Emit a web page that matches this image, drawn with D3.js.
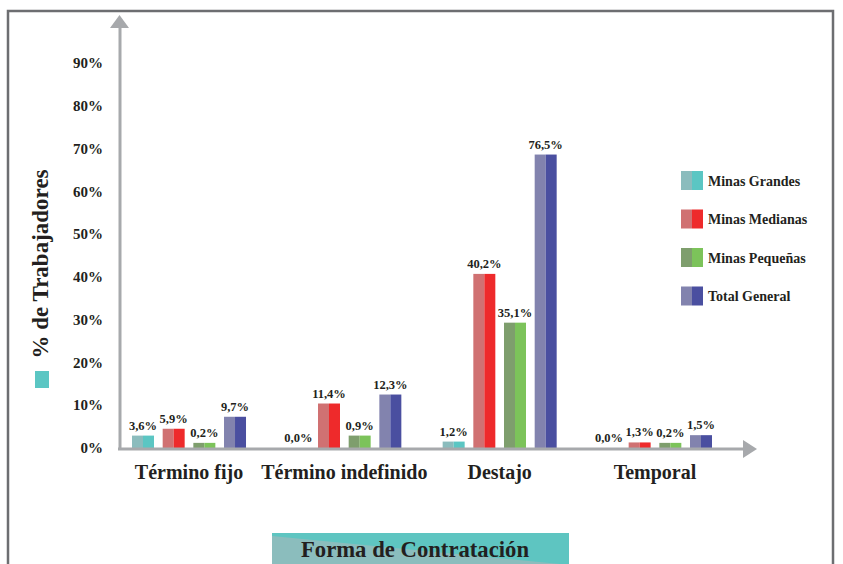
<!DOCTYPE html>
<html>
<head>
<meta charset="utf-8">
<script src="https://cdn.jsdelivr.net/npm/d3@7"></script>
<style>
  body { margin: 0; background: #fff; }
  text { font-family: "Times New Roman", Times, "Liberation Serif", Tinos, serif; font-weight: bold; fill: #231f20; }
</style>
</head>
<body>
<div id="chart"></div>
<script>
var categories = ["Término fijo", "Término indefinido", "Destajo", "Temporal"];
var series = ["Minas Grandes", "Minas Medianas", "Minas Pequeñas", "Total General"];

// bar heights as drawn in the picture (%)
var barGrandes = [2.9, 0, 1.5, 0];
var barMedianas = [4.5, 10.4, 40.7, 1.3];
var barPequenas = [1.2, 2.9, 29.3, 1.2];
var barTotal = [7.3, 12.5, 68.6, 3.0];

// value labels printed over the bars
var labelGrandes = ["3,6%", "0,0%", "1,2%", "0,0%"];
var labelMedianas = ["5,9%", "11,4%", "40,2%", "1,3%"];
var labelPequenas = ["0,2%", "0,9%", "35,1%", "0,2%"];
var labelTotal = ["9,7%", "12,3%", "76,5%", "1,5%"];

var yTicks = [0, 10, 20, 30, 40, 50, 60, 70, 80, 90];

var lightColors = ["#8bbcbd", "#d07172", "#7e9e6d", "#8283ae"];
var darkColors = ["#5bc6c3", "#ee2a2b", "#7cc35a", "#4a4fa0"];

var width = 843;
var height = 564;
var axisColor = "#a7a9ac";

var svg = d3.select("#chart")
  .append("svg")
  .attr("width", width)
  .attr("height", height);

// outer frame
svg.append("rect")
  .attr("x", 8)
  .attr("y", 11)
  .attr("width", 825)
  .attr("height", 600)
  .attr("fill", "none")
  .attr("stroke", "#6d6e71")
  .attr("stroke-width", 2.5);

var baseY = 448;

var y = d3.scaleLinear()
  .domain([0, 90])
  .range([baseY, 63]);

var x0 = d3.scaleBand()
  .domain(categories)
  .range([132, 712])
  .paddingInner(0.266)
  .paddingOuter(0);

var x1 = d3.scaleBand()
  .domain(series)
  .range([0, x0.bandwidth()])
  .paddingInner(0.283)
  .paddingOuter(0);

var bars = [barGrandes, barMedianas, barPequenas, barTotal];
var labels = [labelGrandes, labelMedianas, labelPequenas, labelTotal];

var data = [];
categories.forEach(function (c, i) {
  series.forEach(function (s, j) {
    data.push({ cat: c, ser: s, si: j, v: bars[j][i], label: labels[j][i] });
  });
});

// y tick labels (no tick lines)
svg.append("g")
  .selectAll("text")
  .data(yTicks)
  .enter()
  .append("text")
  .attr("x", 103)
  .attr("y", function (d) { return y(d); })
  .attr("dy", "0.35em")
  .attr("text-anchor", "end")
  .attr("font-size", 15)
  .text(function (d) { return d + "%"; });

// bars, each in two tones
var barG = svg.append("g");
var bw = x1.bandwidth();

barG.selectAll(".bar-left")
  .data(data)
  .enter()
  .append("rect")
  .attr("class", "bar-left")
  .attr("x", function (d) { return x0(d.cat) + x1(d.ser); })
  .attr("y", function (d) { return y(d.v); })
  .attr("width", bw / 2)
  .attr("height", function (d) { return baseY - y(d.v); })
  .attr("fill", function (d) { return lightColors[d.si]; });

barG.selectAll(".bar-right")
  .data(data)
  .enter()
  .append("rect")
  .attr("class", "bar-right")
  .attr("x", function (d) { return x0(d.cat) + x1(d.ser) + bw / 2; })
  .attr("y", function (d) { return y(d.v); })
  .attr("width", bw / 2)
  .attr("height", function (d) { return baseY - y(d.v); })
  .attr("fill", function (d) { return darkColors[d.si]; });

// value labels
barG.selectAll(".val")
  .data(data)
  .enter()
  .append("text")
  .attr("class", "val")
  .attr("x", function (d) { return x0(d.cat) + x1(d.ser) + bw / 2; })
  .attr("y", function (d) { return y(d.v) - 6; })
  .attr("text-anchor", "middle")
  .attr("font-size", 12.5)
  .text(function (d) { return d.label; });

// axes with arrow heads
svg.append("line")
  .attr("x1", 120).attr("y1", baseY + 2)
  .attr("x2", 120).attr("y2", 27)
  .attr("stroke", axisColor)
  .attr("stroke-width", 3);

svg.append("path")
  .attr("d", "M110,28 L129,28 L119.5,15 Z")
  .attr("fill", axisColor);

svg.append("line")
  .attr("x1", 118).attr("y1", baseY + 1)
  .attr("x2", 744).attr("y2", baseY + 1)
  .attr("stroke", axisColor)
  .attr("stroke-width", 3);

svg.append("path")
  .attr("d", "M743,440 L743,458 L757,449 Z")
  .attr("fill", axisColor);

// category labels
svg.append("g")
  .selectAll("text")
  .data(categories)
  .enter()
  .append("text")
  .attr("x", function (d) { return x0(d) + x0.bandwidth() / 2; })
  .attr("y", 479)
  .attr("text-anchor", "middle")
  .attr("font-size", 20)
  .text(function (d) { return d; });

// legend
var legend = svg.append("g")
  .selectAll("g")
  .data(series)
  .enter()
  .append("g")
  .attr("transform", function (d, i) { return "translate(681," + (171 + i * 38.5) + ")"; });

legend.append("rect")
  .attr("width", 11).attr("height", 19)
  .attr("fill", function (d, i) { return lightColors[i]; });

legend.append("rect")
  .attr("x", 11)
  .attr("width", 11).attr("height", 19)
  .attr("fill", function (d, i) { return darkColors[i]; });

legend.append("text")
  .attr("x", 27)
  .attr("y", 10)
  .attr("dy", "0.35em")
  .attr("font-size", 14)
  .text(function (d) { return d; });

// y axis title with its small square
svg.append("text")
  .attr("transform", "translate(48,264) rotate(-90)")
  .attr("text-anchor", "middle")
  .attr("font-size", 23)
  .text("% de Trabajadores");

svg.append("rect")
  .attr("x", 35).attr("y", 371)
  .attr("width", 14).attr("height", 17)
  .attr("fill", darkColors[0]);

// bottom title box
svg.append("rect")
  .attr("x", 272).attr("y", 533)
  .attr("width", 297).attr("height", 31)
  .attr("fill", "#5ec5c1");

svg.append("path")
  .attr("d", "M272,536 L560,564 L272,564 Z")
  .attr("fill", "#8bbdbd");

svg.append("text")
  .attr("x", 415)
  .attr("y", 557)
  .attr("text-anchor", "middle")
  .attr("font-size", 22.7)
  .text("Forma de Contratación");
</script>
</body>
</html>
